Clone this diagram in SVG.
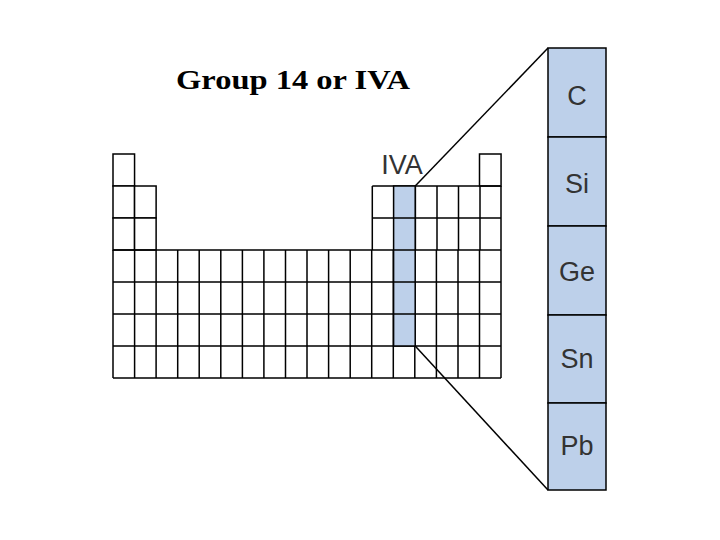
<svg xmlns="http://www.w3.org/2000/svg" width="720" height="540" viewBox="0 0 720 540">
<style>
.c{fill:#fff;stroke:#000;stroke-width:1.5}
.h{fill:#bdd0ea;stroke:#000;stroke-width:1.5}
.e{font-family:"Liberation Sans",Arial,sans-serif;font-size:27px;fill:#333;text-anchor:middle}
</style>
<rect width="720" height="540" fill="#fff"/>
<text x="176" y="89" font-family="Liberation Serif,serif" font-weight="bold" font-size="28" textLength="234" lengthAdjust="spacingAndGlyphs">Group 14 or IVA</text>
<g id="table">
<g id="r1"><rect class="c" x="113" y="154" width="21.56" height="32"/><rect class="c" x="479.5" y="154" width="21.56" height="32"/></g>
<g id="r23">
<rect class="c" x="113" y="186" width="21.56" height="32"/><rect class="c" x="134.56" y="186" width="21.56" height="32"/>
<rect class="c" x="113" y="218" width="21.56" height="32"/><rect class="c" x="134.56" y="218" width="21.56" height="32"/>
</g>
<path id="grid" fill="none" stroke="#000" stroke-width="1.5" d="M372.3 186H501M372.3 218H501M372.3 186V250M393.9 186V250M415.4 186V250M437 186V250M458.5 186V250M480 186V250M501 186V250
M113 250H501M113 282H501M113 314H501M113 346H501M113 378H501
M113 250V378M134.6 250V378M156.1 250V378M177.7 250V378M199.2 250V378M220.8 250V378M242.4 250V378M263.9 250V378M285.5 250V378M307 250V378M328.6 250V378M350.2 250V378M371.7 250V378M393.3 250V378M414.8 250V378M436.4 250V378M458 250V378M479.5 250V378M501 250V378"/>
<rect class="h" x="393.6" y="186" width="21.6" height="160"/>
<path fill="none" stroke="#000" stroke-width="1.5" d="M393.6 218H415.2M393.6 250H415.2M393.6 282H415.2M393.6 314H415.2"/>
</g>
<text class="e" x="402" y="174" font-size="28">IVA</text>
<g id="connectors" stroke="#000" stroke-width="1.5">
<line x1="415.2" y1="186" x2="548" y2="48"/>
<line x1="415.2" y1="346" x2="548" y2="490"/>
</g>
<g id="C"><rect class="h" x="548" y="48" width="58" height="89"/><text class="e" x="577" y="105">C</text></g>
<g id="Si"><rect class="h" x="548" y="137" width="58" height="89"/><text class="e" x="577" y="193">Si</text></g>
<g id="Ge"><rect class="h" x="548" y="226" width="58" height="89"/><text class="e" x="577" y="281">Ge</text></g>
<g id="Sn"><rect class="h" x="548" y="315" width="58" height="88"/><text class="e" x="577" y="368">Sn</text></g>
<g id="Pb"><rect class="h" x="548" y="403" width="58" height="87"/><text class="e" x="577" y="455">Pb</text></g>
</svg>
